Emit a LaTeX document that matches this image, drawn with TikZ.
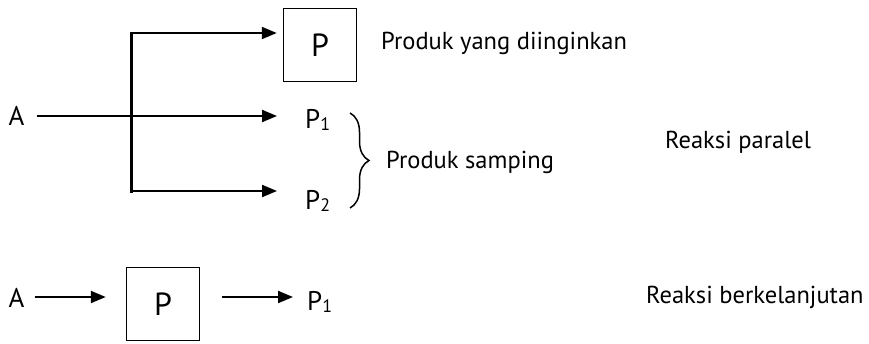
\documentclass[tikz,border=0pt]{standalone}
\usepackage{fontspec}
\setmainfont{PT Sans}
\usetikzlibrary{arrows.meta,decorations.pathreplacing}
\newcommand{\sbs}[1]{\raisebox{-2pt}{\fontsize{18}{18}\selectfont #1}}
\tikzset{
  lbl/.style={inner sep=0pt, anchor=base west, font=\fontsize{24.5}{28}\selectfont},
  sym/.style={inner sep=0pt, anchor=base, font=\fontsize{27}{30}\selectfont},
  prodbox/.style={draw, line width=1.5pt, minimum width=73pt, minimum height=73pt,
                  inner sep=0pt, font=\fontsize{32}{34}\selectfont},
  arr/.style={line width=2pt, -{Triangle[length=15pt,width=12pt]}},
  trunk/.style={line width=3pt, line cap=rect},
  brc/.style={line width=1.5pt, decorate, decoration={brace, amplitude=19pt}}
}
\begin{document}
\begin{tikzpicture}[x=1pt,y=-1pt]
  \useasboundingbox (0,0) rectangle (869,343);

  % parallel reactions
  \node[sym] (A1) at (16.5,125) {A};
  \node[prodbox] (Pd) at (320,45) {P};
  \node[sym, anchor=base west] (P1a) at (305,128) {P\sbs{1}};
  \node[sym, anchor=base west] (P2a) at (305,209) {P\sbs{2}};
  \coordinate (jtop) at (131,33);
  \coordinate (jmid) at (131,116);
  \coordinate (jbot) at (131,191);

  \draw[trunk] (jtop) -- (jbot);
  \draw[arr, shorten >=6pt] (jtop) -- (jtop -| Pd.west);
  \draw[arr, shorten <=12pt, shorten >=28pt] (A1.east |- jmid) -- (jmid -| P1a.west);
  \draw[arr, shorten >=28pt] (jbot) -- (jbot -| P2a.west);

  \node[lbl] (want) at (381,49) {Produk yang diinginkan};
  \coordinate (bt) at (350,113);
  \coordinate (bb) at (350,208);
  \draw[brc] (bt) -- (bb);
  \node[lbl] (side) at (386,168) {Produk samping};
  \node[lbl] (par) at (665,148) {Reaksi paralel};

  % consecutive reaction
  \node[sym] (A2) at (16.5,307) {A};
  \node[prodbox] (Pm) at (163,304) {P};
  \node[sym, anchor=base west] (P1b) at (307,310) {P\sbs{1}};
  \coordinate (row) at (0,297);
  \draw[arr, shorten <=10pt, shorten >=20pt] (A2.east |- row) -- (row -| Pm.west);
  \draw[arr, shorten <=22pt, shorten >=14pt] (Pm.east |- row) -- (row -| P1b.west);
  \node[lbl] (cons) at (646,303) {Reaksi berkelanjutan};
\end{tikzpicture}
\end{document}
